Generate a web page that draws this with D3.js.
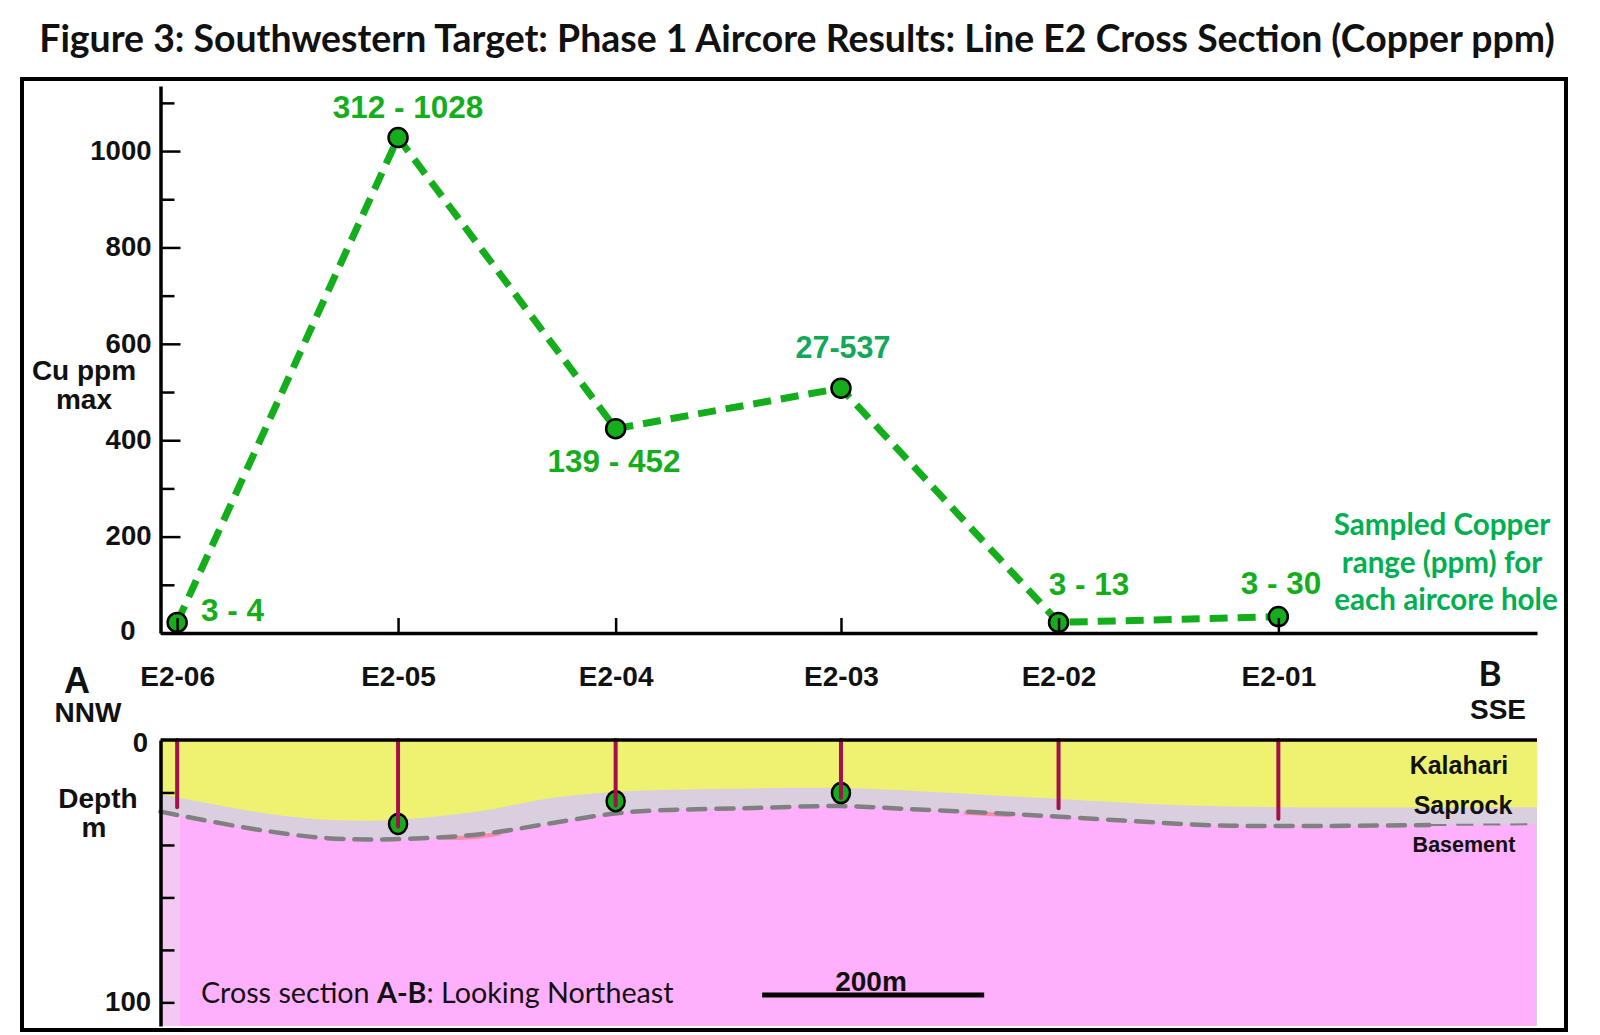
<!DOCTYPE html>
<html>
<head>
<meta charset="utf-8">
<script src="https://cdnjs.cloudflare.com/ajax/libs/d3/7.8.5/d3.min.js"></script>
<style>
  html, body { margin: 0; padding: 0; background: #fff; }
  svg { display: block; }
  text { font-family: "Liberation Sans", Arial, sans-serif; font-weight: bold; fill: #111; }
  .calibri { font-family: Lato, sans-serif; }
</style>
</head>
<body>
<svg id="chart" width="1600" height="1035"></svg>
<script>
// holes along the section, metres from E2-06
const holeIds = ['E2-06', 'E2-05', 'E2-04', 'E2-03', 'E2-02', 'E2-01'];
const holeDist = [0, 199, 395, 598, 794, 992];
const cuMax = [22, 1028, 424, 508, 22, 34];
const cuRange = ['3 - 4', '312 - 1028', '139 - 452', '27-537', '3 - 13', '3 - 30'];
const holeDepth = [25.6, 33, 25, 22, 26, 30];
const markerDepth = [null, 32, 23.3, 20.2, null, null];

const cuMajor = [0, 200, 400, 600, 800, 1000];
const cuMinor = [100, 300, 500, 700, 900, 1100];
const depthTicks = [20, 40, 60, 80, 100];
const depthLabels = [0, 100];

// layer boundaries
const kalahariDist = [-15, 70, 135, 199, 273, 337, 395, 484, 597, 668, 794, 898, 993, 1225];
const kalahariBase = [20.6, 27.3, 30.4, 30.4, 27.1, 22.1, 19.8, 18.7, 18.3, 19.5, 22.5, 24.8, 25.6, 25.6];
const saprockDist = [-15, 70, 135, 195, 273, 337, 392, 429, 512, 597, 668, 760, 852, 925, 993, 1128, 1224];
const saprockBase = [27.3, 34, 37.4, 37.8, 35.9, 31.7, 28.1, 26.9, 26, 25.2, 26.5, 28.4, 30.7, 32.4, 32.8, 32.4, 32.1];
const stainA = [[240, 37.3], [265, 37.1], [291, 35.6]];
const stainB = [[709, 27.7], [751, 28.7]];
const scaleBar = [527, 727];

const GREEN = '#14ae1c';
const svg = d3.select('#chart');

const scX = d3.scaleLinear().domain([-15, 1225]).range([160.5, 1537]);
const scCu = d3.scaleLinear().domain([0, 1135]).range([633, 86]);
const scDepth = d3.scaleLinear().domain([0, 109]).range([740, 1026]);

function addText(str, x, y, size, opts = {}) {
    return svg.append('text')
        .attr('x', x)
        .attr('y', y)
        .attr('text-anchor', opts.anchor || 'middle')
        .attr('class', opts.cls || null)
        .attr('font-size', size)
        .style('fill', opts.fill || null)
        .text(str);
}

// title + frame
addText('Figure 3: Southwestern Target: Phase 1 Aircore Results: Line E2 Cross Section (Copper ppm)', 797, 52, 37.4, { cls: 'calibri' });
svg.append('rect')
    .attr('x', 22).attr('y', 79)
    .attr('width', 1544).attr('height', 951)
    .attr('fill', 'none').attr('stroke', '#000').attr('stroke-width', 4);

// ---- lower panel: geology section ----
const kalahariPts = kalahariDist.map((d, i) => [d, kalahariBase[i]]);
const saprockPts = saprockDist.map((d, i) => [d, saprockBase[i]]);
const curve = d3.curveCatmullRom;

const bottomArea = d3.area().curve(curve)
    .x(d => scX(d[0])).y0(scDepth(109)).y1(d => scDepth(d[1]));
const lineGen = d3.line().curve(curve)
    .x(d => scX(d[0])).y(d => scDepth(d[1]));

svg.append('rect')
    .attr('x', scX(-15)).attr('y', scDepth(0))
    .attr('width', scX(1225) - scX(-15)).attr('height', scDepth(109) - scDepth(0))
    .attr('fill', '#eef270');
svg.append('path').datum(kalahariPts).attr('d', bottomArea).attr('fill', '#d9cfdf');
svg.append('path').datum(saprockPts).attr('d', bottomArea).attr('fill', '#ffb0fd');

// paler strip next to the depth axis
svg.append('clipPath').attr('id', 'stripClip')
    .append('rect').attr('x', 160).attr('y', 740).attr('width', 20).attr('height', 290);
svg.append('path').datum(saprockPts).attr('d', bottomArea)
    .attr('fill', '#f3c8f5').attr('clip-path', 'url(#stripClip)');

// small red stains along the saprock base
[stainA, stainB].forEach(stain => {
    svg.append('path').datum(stain).attr('d', lineGen)
        .attr('fill', 'none').attr('stroke', '#ff8aa8').attr('stroke-width', 4);
});

// boundary is thick on the left, thin out to the right
const thickPts = saprockPts.filter(d => d[0] <= 1128);
const thinPts = saprockPts.filter(d => d[0] >= 1128);
svg.append('path').datum(thickPts).attr('d', lineGen)
    .attr('fill', 'none').attr('stroke', '#808080').attr('stroke-width', 4.5)
    .attr('stroke-dasharray', '17 11').attr('stroke-linecap', 'round');
svg.append('path').datum(thinPts).attr('d', lineGen)
    .attr('fill', 'none').attr('stroke', '#808080').attr('stroke-width', 2)
    .attr('stroke-dasharray', '17 10');

// hole markers sit below the hole traces
svg.selectAll('.hole-marker')
    .data(holeDist.map((d, i) => ({ d, depth: markerDepth[i] })).filter(p => p.depth !== null))
    .enter()
    .append('ellipse')
    .attr('class', 'hole-marker')
    .attr('cx', p => scX(p.d))
    .attr('cy', p => scDepth(p.depth))
    .attr('rx', 9).attr('ry', 10)
    .attr('fill', GREEN).attr('stroke', '#000').attr('stroke-width', 2.5);

svg.selectAll('.hole')
    .data(holeDist.map((d, i) => ({ d, depth: holeDepth[i] })))
    .enter()
    .append('line')
    .attr('class', 'hole')
    .attr('x1', p => scX(p.d)).attr('x2', p => scX(p.d))
    .attr('y1', scDepth(0)).attr('y2', p => scDepth(p.depth))
    .attr('stroke', '#a60f4e').attr('stroke-width', 4).attr('stroke-linecap', 'round');

// depth axis
const depthAxis = svg.append('g')
    .attr('transform', `translate(${scX(-15)},0)`)
    .call(d3.axisLeft(scDepth).tickValues(depthTicks).tickSizeInner(-14).tickSizeOuter(0).tickFormat(''));
depthAxis.selectAll('path, line').attr('stroke', '#000');
depthAxis.select('.domain').attr('stroke-width', 3.5);
depthAxis.selectAll('.tick line').attr('stroke-width', 2.5);

svg.selectAll('.depth-label')
    .data(depthLabels)
    .enter()
    .append('text')
    .attr('class', 'depth-label')
    .attr('x', d => d === 0 ? 148 : 151)
    .attr('y', d => scDepth(d) + (d === 0 ? 12 : 9))
    .attr('text-anchor', 'end')
    .attr('font-size', 27.5)
    .text(d => d);

// top line of the section
svg.append('line')
    .attr('x1', scX(-15)).attr('x2', scX(1225))
    .attr('y1', scDepth(0)).attr('y2', scDepth(0))
    .attr('stroke', '#000').attr('stroke-width', 3.5);

addText('Kalahari', 1459, 774, 25);
addText('Saprock', 1463, 814, 25);
addText('Basement', 1464, 852, 21.5);

addText('Depth', 98, 808, 28);
addText('m', 94, 837, 28);

// scale bar + caption
svg.append('line')
    .attr('x1', scX(scaleBar[0])).attr('x2', scX(scaleBar[1]))
    .attr('y1', 995).attr('y2', 995)
    .attr('stroke', '#000').attr('stroke-width', 5);
addText('200m', 871, 991, 28);

const caption = addText('Cross section ', 201, 1003, 28.7, { anchor: 'start', cls: 'calibri' }).style('font-weight', 'normal');
caption.append('tspan').style('font-weight', 'bold').text('A-B');
caption.append('tspan').text(': Looking Northeast');

// ---- upper panel: copper line ----
const cuLine = d3.line()
    .x((d, i) => scX(holeDist[i]))
    .y(d => scCu(d));

svg.append('path').datum(cuMax)
    .attr('d', cuLine)
    .attr('fill', 'none')
    .attr('stroke', GREEN)
    .attr('stroke-width', 7)
    .attr('stroke-dasharray', '18 10');

svg.selectAll('.cu-point')
    .data(cuMax)
    .enter()
    .append('circle')
    .attr('class', 'cu-point')
    .attr('cx', (d, i) => scX(holeDist[i]))
    .attr('cy', d => scCu(d))
    .attr('r', 9.5)
    .attr('fill', GREEN)
    .attr('stroke', '#000')
    .attr('stroke-width', 2.5);

// y axis (ticks point inward)
const minorAxis = svg.append('g')
    .attr('transform', `translate(${scX(-15)},0)`)
    .call(d3.axisLeft(scCu).tickValues(cuMinor).tickSizeInner(-14).tickSizeOuter(0).tickFormat(''));
minorAxis.selectAll('path, line').attr('stroke', '#000').attr('stroke-width', 2.5);
minorAxis.select('.domain').remove();

const majorAxis = svg.append('g')
    .attr('transform', `translate(${scX(-15)},0)`)
    .call(d3.axisLeft(scCu).tickValues(cuMajor).tickFormat(d3.format('d')).tickSizeInner(-20).tickSizeOuter(0).tickPadding(9));
majorAxis.selectAll('path, line').attr('stroke', '#000').attr('stroke-width', 2.5);
majorAxis.select('.domain').attr('stroke-width', 3.5);
majorAxis.selectAll('.tick text')
    .attr('font-family', null)
    .attr('font-size', 27.5)
    .attr('dy', '0.3em');
majorAxis.selectAll('.tick')
    .filter(d => d === 0)
    .select('text')
    .attr('x', -25)
    .attr('dy', '0.24em');

// x axis, drawn over the markers so the ticks show through them
const holeAxis = svg.append('g')
    .attr('transform', `translate(0,${scCu(0)})`)
    .call(d3.axisBottom(scX)
        .tickValues(holeDist)
        .tickSizeInner(-15)
        .tickSizeOuter(0)
        .tickPadding(33)
        .tickFormat((d, i) => holeIds[i]));
holeAxis.selectAll('path, line').attr('stroke', '#000').attr('stroke-width', 2.5);
holeAxis.select('.domain').attr('stroke-width', 3.5);
holeAxis.selectAll('.tick text').attr('font-family', null).attr('font-size', 28);
holeAxis.selectAll('.tick')
    .append('line')
    .attr('x1', -15).attr('x2', 15)
    .attr('y1', 2.5).attr('y2', 2.5)
    .attr('stroke', '#bbb').attr('stroke-width', 1);

// range labels
addText(cuRange[0], 201, 621, 31.5, { anchor: 'start', fill: GREEN });
addText(cuRange[1], 408, 118, 31.5, { fill: GREEN });
addText(cuRange[2], 614, 472, 31.5, { fill: GREEN });
addText(cuRange[3], 843, 358, 30.5, { fill: '#12a85a' });
addText(cuRange[4], 1089, 595, 31.5, { fill: GREEN });
addText(cuRange[5], 1281, 594, 31.5, { fill: GREEN });

addText('Sampled Copper', 1442, 535, 29.6, { cls: 'calibri', fill: '#00b050' });
addText('range (ppm) for', 1442, 573, 29.6, { cls: 'calibri', fill: '#00b050' });
addText('each aircore hole', 1446, 610, 29.6, { cls: 'calibri', fill: '#00b050' });

addText('Cu ppm', 84, 380, 28);
addText('max', 84, 409, 28);

addText('A', 77, 693, 36);
addText('NNW', 88, 722, 28);
addText('B', 1490, 686, 35, { cls: 'calibri' });
addText('SSE', 1498, 719, 28);
</script>
</body>
</html>
